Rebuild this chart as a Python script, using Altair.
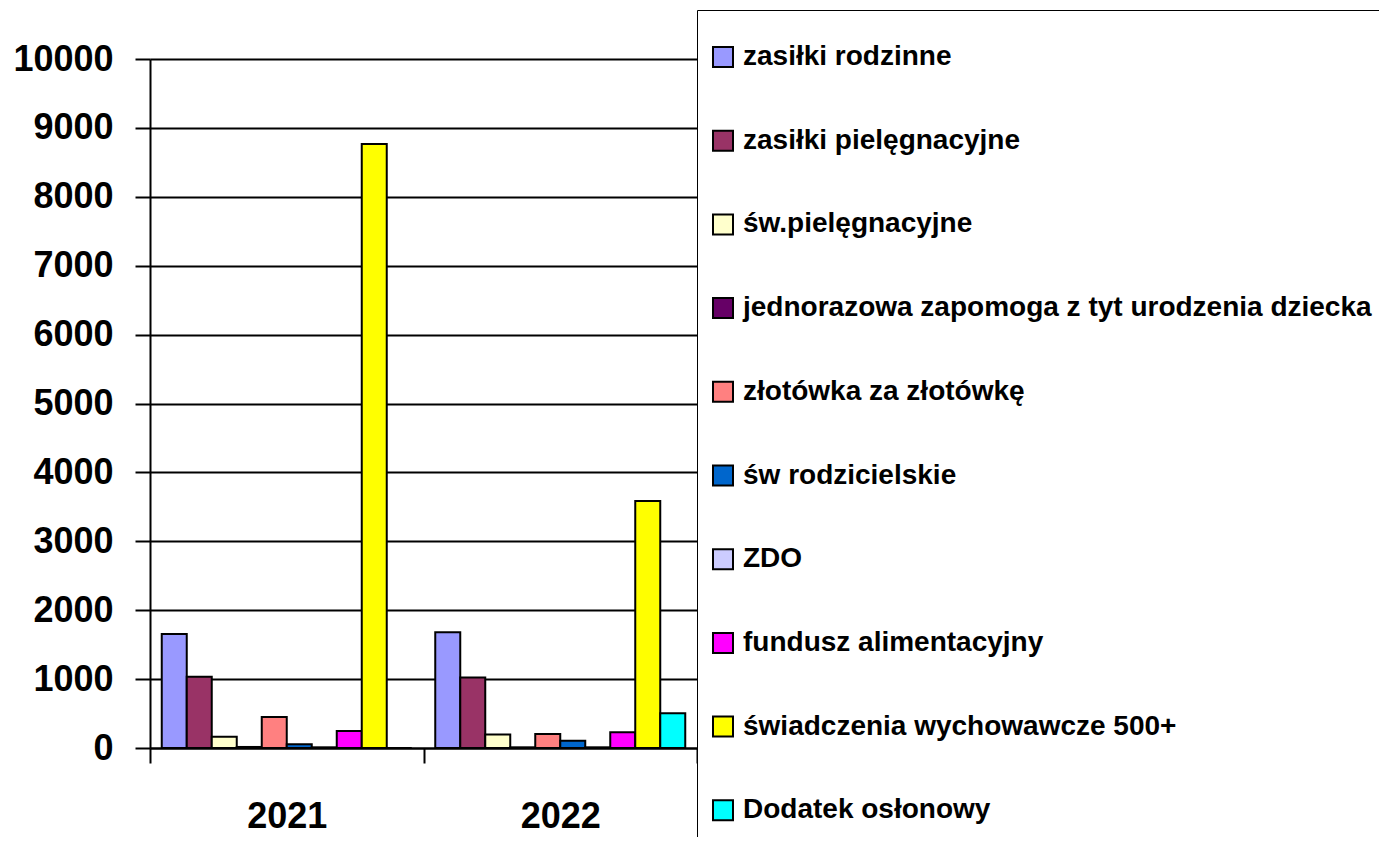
import altair as alt
import pandas as pd

years = ["2021", "2022"]
series = [
    "zasiłki rodzinne",
    "zasiłki pielęgnacyjne",
    "św.pielęgnacyjne",
    "jednorazowa zapomoga z tyt urodzenia dziecka",
    "złotówka za złotówkę",
    "św rodzicielskie",
    "ZDO",
    "fundusz alimentacyjny",
    "świadczenia wychowawcze 500+",
    "Dodatek osłonowy",
]
values_2021 = [1655, 1035, 165, 15, 450, 55, 10, 245, 8765, 0]
values_2022 = [1680, 1025, 195, 10, 205, 105, 10, 230, 3585, 505]
colors = [
    "#9999FF", "#993366", "#FFFFCC", "#660066", "#FF8080",
    "#0066CC", "#CCCCFF", "#FF00FF", "#FFFF00", "#00FFFF",
]
y_ticks = list(range(0, 10001, 1000))

rows = []
for yr, vals in zip(years, [values_2021, values_2022]):
    for s, v in zip(series, vals):
        rows.append({"year": yr, "series": s, "value": v})
df = pd.DataFrame(rows)

FONT = "Liberation Sans"

chart = alt.Chart(df).mark_bar(stroke="black", strokeWidth=2, strokeOpacity=1).encode(
    x=alt.X(
        "year:N", sort=years,
        scale=alt.Scale(paddingInner=0, paddingOuter=0),
        axis=alt.Axis(
            title=None, labelAngle=0, tickBand="extent", tickSize=15,
            tickColor="black", tickWidth=2, domainColor="black", domainWidth=2,
            labelFont=FONT, labelFontSize=36, labelFontWeight="bold",
            labelColor="black", labelPadding=36,
        ),
    ),
    xOffset=alt.XOffset("series:N", sort=series,
                        scale=alt.Scale(paddingInner=0, paddingOuter=0.47)),
    y=alt.Y(
        "value:Q",
        scale=alt.Scale(domain=[0, 10000], nice=False),
        axis=alt.Axis(
            title=None, values=y_ticks, tickSize=15, tickColor="black",
            tickWidth=2, domainColor="black", domainWidth=2,
            grid=True, gridColor="black", gridWidth=2, gridOpacity=1,
            labelFont=FONT, labelFontSize=36, labelFontWeight="bold",
            labelColor="black", labelPadding=22, format="d",
        ),
    ),
    color=alt.Color(
        "series:N", sort=series,
        scale=alt.Scale(domain=series, range=colors),
        legend=alt.Legend(
            orient="none", legendX=547, legendY=-49,
            title=" ", titleFontSize=10, titlePadding=11,
            labelFont=FONT, labelFontSize=28, labelFontWeight="bold",
            labelColor="black", labelLimit=1000, labelOffset=6,
            symbolType="square", symbolSize=400, symbolStrokeColor="black",
            symbolStrokeWidth=2, symbolOpacity=1, rowPadding=55.7,
            padding=12, strokeColor="black", fillColor="white",
        ),
    ),
).properties(
    width=547, height=689,
    autosize=alt.AutoSizeParams(type="none"),
    padding={"left": 142, "top": 51, "right": 682, "bottom": 89},
).configure_view(
    fill="#C0C0C0", stroke="#808080", strokeWidth=2
).configure_legend(
    strokeWidth=2
).configure(background="white")

chart.save("out.html", embed_options={"renderer": "svg", "actions": False})
